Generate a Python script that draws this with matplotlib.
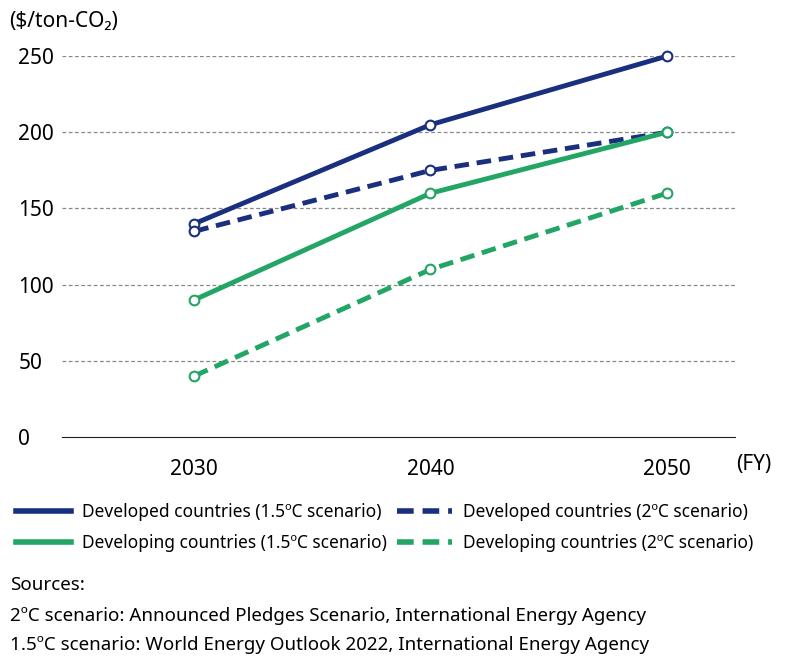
import matplotlib.pyplot as plt
from matplotlib.lines import Line2D

years = [2030, 2040, 2050]
dev_15 = [140, 205, 250]
dev_2 = [135, 175, 200]
deving_15 = [90, 160, 200]
deving_2 = [40, 110, 160]
yticks = [0, 50, 100, 150, 200, 250]

navy = "#1b2f7f"
green = "#22a565"

plt.rcParams['font.family'] = ['Noto Sans', 'DejaVu Sans']

fig = plt.figure(figsize=(8, 6.61), dpi=100)
ax = fig.add_axes([0.0775, 0.339, 0.8415, 0.576])

series = [
    (dev_15, navy, "-", "Developed countries (1.5ºC scenario)"),
    (dev_2, navy, (0, (3, 1.6)), "Developed countries (2ºC scenario)"),
    (deving_15, green, "-", "Developing countries (1.5ºC scenario)"),
    (deving_2, green, (0, (3, 1.6)), "Developing countries (2ºC scenario)"),
]
for vals, c, ls, lab in series:
    ax.plot(years, vals, color=c, lw=3.5, linestyle=ls, marker="o", ms=7,
            mfc="white", mec=c, mew=1.5, clip_on=False, zorder=3)

ax.set_xlim(2024.4, 2052.9)
ax.set_ylim(0, 250)
ax.set_yticks(yticks)
ax.set_xticks(years)
for y in yticks[1:]:
    ax.axhline(y, color="#888888", lw=0.9, ls=(0, (3, 2)), zorder=1)
for s in ["top", "right", "left"]:
    ax.spines[s].set_visible(False)
ax.spines["bottom"].set_color("#222222")
ax.tick_params(axis="y", length=0, labelsize=15, pad=0)
ax.tick_params(axis="x", length=0, labelsize=15, pad=16)
for t in ax.get_yticklabels():
    t.set_horizontalalignment("left")
    t.set_x(-0.065)

fig.text(0.012, 0.967, "($/ton-CO\u2082)", fontsize=15, va="center")
fig.text(0.92, 0.298, "(FY)", fontsize=15, va="center")

order = [0, 2, 1, 3]
handles = [Line2D([], [], color=series[i][1], lw=4, linestyle=series[i][2]) for i in order]
labels = [series[i][3] for i in order]
fig.legend(handles, labels, loc="upper left", bbox_to_anchor=(0.0, 0.262),
           ncol=2, frameon=False, fontsize=12.5, handlelength=3.2,
           columnspacing=0.6, handletextpad=0.6, labelspacing=0.7)

fig.text(0.012, 0.115, "Sources:", fontsize=13.5, va="center")
fig.text(0.012, 0.068, "2ºC scenario: Announced Pledges Scenario, International Energy Agency",
         fontsize=13.5, va="center")
fig.text(0.012, 0.024, "1.5ºC scenario: World Energy Outlook 2022, International Energy Agency",
         fontsize=13.5, va="center")

fig.savefig("out.png", dpi=100)
